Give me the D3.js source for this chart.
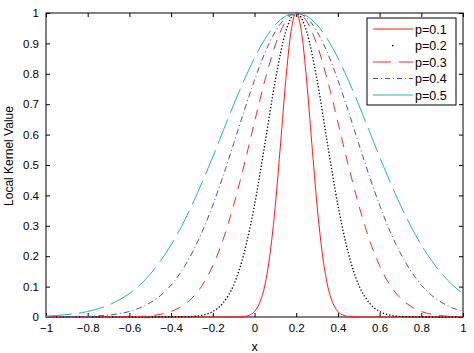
<!DOCTYPE html>
<html><head><meta charset="utf-8">
<script src="https://cdn.jsdelivr.net/npm/d3@7"></script>
<style>body{margin:0;background:#fff}svg{display:block}text{font-family:"Liberation Sans",Arial,sans-serif;fill:#000}</style>
</head><body>
<script>
// Shared x grid for p=0.2 .. 0.5 (step 0.05)
const xGrid = [-1,-0.95,-0.9,-0.85,-0.8,-0.75,-0.7,-0.65,-0.6,-0.55,-0.5,-0.45,-0.4,-0.35,-0.3,-0.25,-0.2,-0.15,-0.1,-0.05,0,
  0.05,0.1,0.15,0.2,0.25,0.3,0.35,0.4,0.45,0.5,0.55,0.6,0.65,0.7,0.75,0.8,0.85,0.9,0.95,1];
const p05 = [0.003,0.005,0.008,0.012,0.018,0.027,0.039,0.056,0.077,0.105,0.141,0.185,0.237,0.298,0.368,0.445,0.527,0.613,0.698,0.779,0.852,
  0.914,0.961,0.990,1,0.990,0.961,0.914,0.852,0.779,0.698,0.613,0.527,0.445,0.368,0.298,0.237,0.185,0.141,0.105,0.077];
const p04 = [0,0,0.001,0.001,0.002,0.004,0.006,0.011,0.018,0.030,0.047,0.071,0.105,0.151,0.210,0.282,0.368,0.465,0.570,0.677,0.779,
  0.869,0.939,0.984,1,0.984,0.939,0.869,0.779,0.677,0.570,0.465,0.368,0.282,0.210,0.151,0.105,0.071,0.047,0.030,0.018];
const p03 = [0,0,0,0,0,0,0,0,0.001,0.002,0.004,0.009,0.018,0.035,0.062,0.105,0.169,0.256,0.368,0.499,0.641,
  0.779,0.895,0.973,1,0.973,0.895,0.779,0.641,0.499,0.368,0.256,0.169,0.105,0.062,0.035,0.018,0.009,0.004,0.002,0.001];
const p02 = [0,0,0,0,0,0,0,0,0,0,0,0,0,0.001,0.002,0.006,0.018,0.047,0.105,0.210,0.368,
  0.570,0.779,0.939,1,0.939,0.779,0.570,0.368,0.210,0.105,0.047,0.018,0.006,0.002,0.001,0,0,0,0,0];
// Fine x grid for p=0.1
const xFine = [-1,-0.1,-0.075,-0.05,-0.025,0,0.025,0.05,0.075,0.1,0.125,0.15,0.175,0.2,0.225,0.25,0.275,0.3,0.325,0.35,0.375,0.4,0.425,0.45,0.475,0.5,1];
const p01 = [0,0,0.001,0.002,0.006,0.018,0.047,0.105,0.210,0.368,0.570,0.779,0.939,1,0.939,0.779,0.570,0.368,0.210,0.105,0.047,0.018,0.006,0.002,0.001,0,0];

const labels = ["p=0.1","p=0.2","p=0.3","p=0.4","p=0.5"];
const xTicks = [-1,-0.8,-0.6,-0.4,-0.2,0,0.2,0.4,0.6,0.8,1];
const yTicks = [0,0.1,0.2,0.3,0.4,0.5,0.6,0.7,0.8,0.9,1];

const series = [
  {name: labels[0], xs: xFine, ys: p01, color: "#ff1a1a", dash: null, legendDash: null, w: 1},
  {name: labels[1], xs: xGrid, ys: p02, color: "#000000", dash: "1.3,2", legendDash: "dot", w: 1.3},
  {name: labels[2], xs: xGrid, ys: p03, color: "#e83030", dash: "10,8", legendDash: "18,8", w: 1},
  {name: labels[3], xs: xGrid, ys: p04, color: "#4454b4", dash: "6,3,1,3", legendDash: "5,3,1,3", w: 1},
  {name: labels[4], xs: xGrid, ys: p05, color: "#26b5b5", dash: "26,7", legendDash: null, w: 1}
];

const W = 474, H = 353;
const L = 46, R = 463, T = 13, B = 317;
const svg = d3.select("body").append("svg").attr("width", W).attr("height", H);
const x = d3.scaleLinear().domain([-1, 1]).range([L, R]);
const y = d3.scaleLinear().domain([0, 1]).range([B, T]);
const fmt = d => d3.format("")(+d.toFixed(1));

// Axes with inward ticks
const tl = 4;
svg.append("g").attr("transform", `translate(0,${B})`)
  .call(d3.axisBottom(x).tickValues(xTicks).tickSize(-tl).tickPadding(7).tickFormat(fmt))
  .call(g => { g.select(".domain").remove(); g.selectAll("text").attr("font-size", 11.5); });
svg.append("g").attr("transform", `translate(0,${T})`)
  .call(d3.axisTop(x).tickValues(xTicks).tickSize(-tl).tickFormat(""))
  .call(g => g.select(".domain").remove());
svg.append("g").attr("transform", `translate(${L},0)`)
  .call(d3.axisLeft(y).tickValues(yTicks).tickSize(-tl).tickPadding(7).tickFormat(fmt))
  .call(g => { g.select(".domain").remove(); g.selectAll("text").attr("font-size", 11.5); });
svg.append("g").attr("transform", `translate(${R},0)`)
  .call(d3.axisRight(y).tickValues(yTicks).tickSize(-tl).tickFormat(""))
  .call(g => g.select(".domain").remove());
svg.append("rect").attr("x", L).attr("y", T).attr("width", R - L).attr("height", B - T)
  .attr("fill", "none").attr("stroke", "#000").attr("stroke-width", 1);

// Lines
const line = d3.line().curve(d3.curveMonotoneX);
series.forEach(s => {
  const pts = s.xs.map((v, i) => [x(v), y(s.ys[i])]);
  svg.append("path").attr("d", line(pts)).attr("fill", "none")
    .attr("stroke", s.color).attr("stroke-width", s.w)
    .attr("stroke-dasharray", s.dash);
});

// Axis labels
svg.append("text").attr("x", x(0)).attr("y", 351).attr("text-anchor", "middle").attr("font-size", 12.5).text("x");
svg.append("text").attr("transform", "translate(13,156) rotate(-90)").attr("text-anchor", "middle")
  .attr("font-size", 12).text("Local Kernel Value");

// Legend
const lg = svg.append("g");
lg.append("rect").attr("x", 367).attr("y", 18).attr("width", 89).attr("height", 87)
  .attr("fill", "#fff").attr("stroke", "#000").attr("stroke-width", 1);
series.forEach((s, i) => {
  const yy = 29 + i * 16.5;
  if (s.legendDash === "dot") {
    lg.append("rect").attr("x", 392).attr("y", yy - 0.6).attr("width", 1.4).attr("height", 1.4).attr("fill", s.color);
  } else {
    lg.append("line").attr("x1", 373).attr("x2", 413).attr("y1", yy).attr("y2", yy)
      .attr("stroke", s.color).attr("stroke-width", 1).attr("stroke-dasharray", s.legendDash);
  }
  lg.append("text").attr("x", 415).attr("y", yy + 4.5).attr("font-size", 12.5).text(s.name);
});
</script>
</body></html>
